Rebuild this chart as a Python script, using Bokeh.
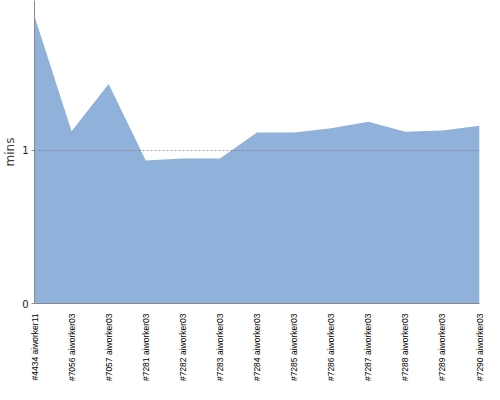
from bokeh.plotting import figure
from bokeh.models import Range1d, FixedTicker
from bokeh.embed import file_html
from bokeh.resources import INLINE
import math

categories = ["#4434 aiworker11", "#7056 aiworker03", "#7057 aiworker03", "#7281 aiworker03",
              "#7282 aiworker03", "#7283 aiworker03", "#7284 aiworker03", "#7285 aiworker03",
              "#7286 aiworker03", "#7287 aiworker03", "#7288 aiworker03", "#7289 aiworker03",
              "#7290 aiworker03"]
minutes = [1.877, 1.125, 1.435, 0.935, 0.948, 0.948, 1.117, 1.117, 1.145, 1.188, 1.123, 1.13, 1.162]
y_ticks = [0, 1]

xs = list(range(len(categories)))

p = figure(width=484, height=384, output_backend="svg", toolbar_location=None,
           x_range=Range1d(0, len(categories) - 1), y_range=Range1d(0, 1.98),
           min_border_left=25, min_border_right=5, min_border_top=0, min_border_bottom=0)
p.outline_line_color = None

p.varea(x=xs, y1=[0] * len(xs), y2=minutes, fill_color="#8fb1da", fill_alpha=1)

p.xaxis.ticker = FixedTicker(ticks=xs)
p.xaxis.major_label_overrides = {i: c for i, c in enumerate(categories)}
p.xaxis.major_label_orientation = math.pi / 2
p.xaxis.major_label_text_font = "Liberation Sans"
p.xaxis.major_label_text_font_size = "8.5px"
p.xaxis.major_label_text_color = "#000000"
p.xaxis.major_tick_line_color = None
p.xaxis.major_tick_out = 0
p.xaxis.major_tick_in = 0
p.xaxis.minor_tick_line_color = None
p.xaxis.axis_line_color = "#8a8a8a"
p.xaxis.major_label_standoff = 10

p.yaxis.ticker = FixedTicker(ticks=y_ticks)
p.yaxis.axis_label = "mins"
p.yaxis.axis_label_text_font = "DejaVu Sans"
p.yaxis.axis_label_text_font_size = "12px"
p.yaxis.axis_label_text_font_style = "normal"
p.yaxis.axis_label_standoff = 2
p.yaxis.major_label_text_font = "DejaVu Sans"
p.yaxis.major_label_text_font_size = "10px"
p.yaxis.major_label_text_color = "#222222"
p.yaxis.major_label_standoff = 3
p.yaxis.major_tick_in = 0
p.yaxis.major_tick_out = 3
p.yaxis.major_tick_line_color = "#8a8a8a"
p.yaxis.minor_tick_line_color = None
p.yaxis.axis_line_color = "#8a8a8a"

p.xgrid.grid_line_color = None
p.ygrid.ticker = FixedTicker(ticks=[1])
p.ygrid.grid_line_color = "#777777"
p.ygrid.grid_line_alpha = 0.7
p.ygrid.grid_line_dash = "2 2"
p.ygrid.level = "overlay"

open("out.html", "w").write(file_html(p, INLINE))
